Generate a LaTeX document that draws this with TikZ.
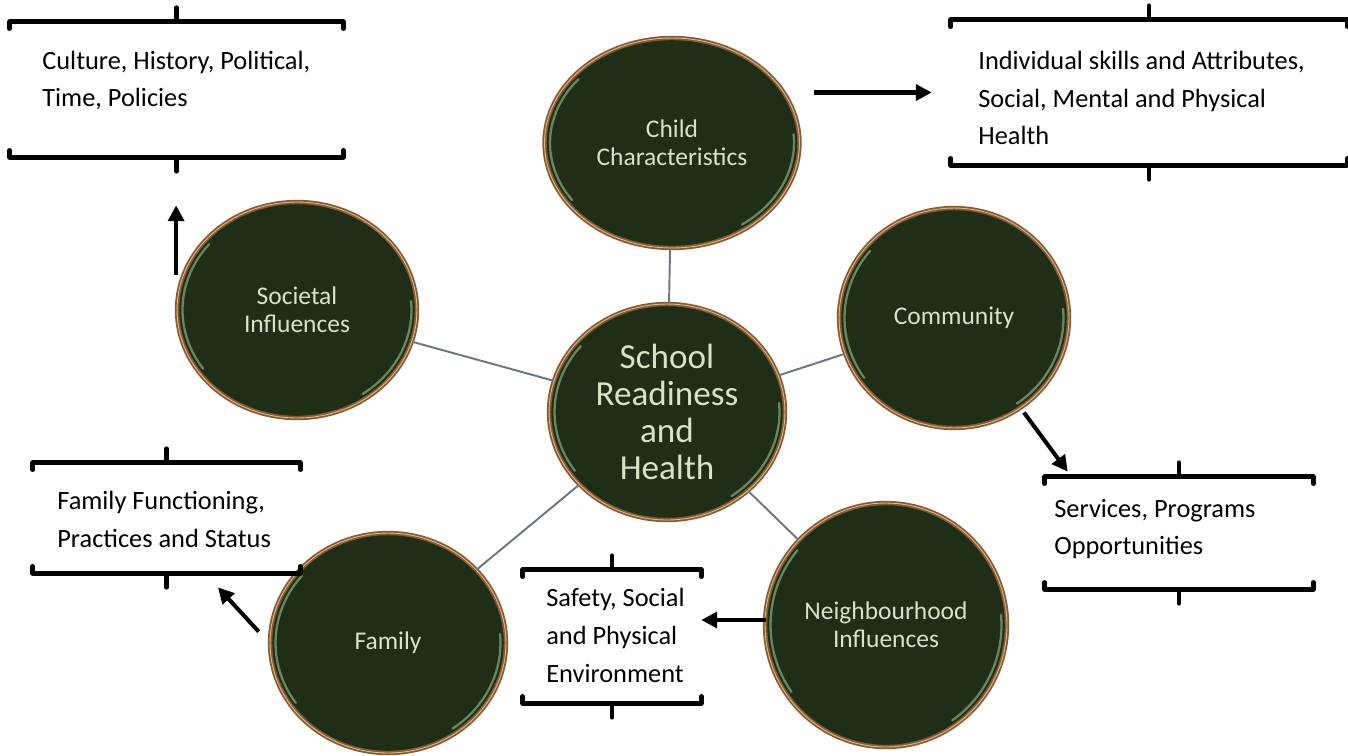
\documentclass[tikz,border=0pt]{standalone}
\usepackage{fontspec}
\setmainfont{Carlito}
\usetikzlibrary{arrows.meta,shapes.geometric}
\definecolor{ballfill}{HTML}{1F2E17}
\definecolor{ballrim}{HTML}{8A5A2E}
\definecolor{ballline}{HTML}{D9B98E}
\definecolor{balltext}{HTML}{D6E4C4}
\definecolor{spokegray}{HTML}{6B7682}
\definecolor{glossgreen}{HTML}{9CC38A}
\tikzset{
  ball/.style={ellipse, draw=ballrim, double=ballline, double distance=0.5pt, line width=1pt,
    fill=ballfill, text=balltext, align=center, inner sep=0pt,
    font=\fontsize{14.5}{16}\selectfont},
  gloss/.style={draw=glossgreen, line width=1.3pt, opacity=0.6, line cap=round},
  spoke/.style={draw=spokegray, line width=1.1pt},
  frame/.style={line width=2.6pt, line cap=round, line join=round},
  boxframe/.style={rectangle, inner sep=0pt},
  boxtext/.style={align=left, inner sep=0pt, anchor=west, font=\fontsize{15}{21.5}\selectfont},
  arr/.style={line width=2.3pt, -{Triangle[length=9pt,width=9pt]}}
}
% brackets above and below a box node
\newcommand{\brackets}[1]{%
  \draw[frame] ([yshift=-0.14cm]#1.north west) -- (#1.north west) -- (#1.north east) -- ([yshift=-0.14cm]#1.north east);
  \draw[frame] ([yshift=0.14cm]#1.south west) -- (#1.south west) -- (#1.south east) -- ([yshift=0.14cm]#1.south east);
  \draw[frame] (#1.north) -- ([yshift=0.28cm]#1.north);
  \draw[frame] (#1.south) -- ([yshift=-0.28cm]#1.south);
}

\begin{document}
\begin{tikzpicture}[x=0.02cm, y=-0.02cm]
  \useasboundingbox (0,0) rectangle (1348,755);

  % circles
  \node[ball, minimum width=4.72cm, minimum height=4.32cm, font=\fontsize{20}{21}\selectfont] (srh) at (667,412) {School\\Readiness\\and\\Health};
  \node[ball, minimum width=5.1cm, minimum height=4.2cm] (child) at (672,143) {Child\\Characteristics};
  \node[ball, minimum width=4.8cm, minimum height=4.32cm] (soc) at (297,310) {Societal\\Influences};
  \node[ball, minimum width=4.6cm, minimum height=4.4cm] (comm) at (954,318) {Community};
  \node[ball, minimum width=4.72cm, minimum height=4.4cm] (fam) at (388,643) {Family};
  \node[ball, minimum width=4.84cm, minimum height=4.88cm] (neigh) at (886,625) {Neighbourhood\\Influences};

  % sheen on the balls
  \foreach \n/\a/\b in {srh/2.25/2.05, child/2.44/1.99, soc/2.29/2.05, comm/2.19/2.09, fam/2.25/2.09, neigh/2.31/2.33}{
    \draw[gloss] ([shift={(140:\a cm and \b cm)}]\n.center) arc[start angle=140, end angle=215, x radius=\a cm, y radius=\b cm];
    \draw[gloss] ([shift={(-55:\a cm and \b cm)}]\n.center) arc[start angle=-55, end angle=5, x radius=\a cm, y radius=\b cm];
  }

  % spokes
  \draw[spoke] (srh) -- (child);
  \draw[spoke] (srh) -- (soc);
  \draw[spoke] (srh) -- (comm);
  \draw[spoke] (srh) -- (fam);
  \draw[spoke] (srh) -- (neigh);

  % boxes
  \node[boxframe, minimum width=6.66cm, minimum height=2.7cm] (box1) at (176.5,89.5) {};
  \node[boxframe, minimum width=7.92cm, minimum height=2.9cm] (box2) at (1149,92.5) {};
  \node[boxframe, minimum width=5.36cm, minimum height=2.24cm] (box3) at (1179,533) {};
  \node[boxframe, minimum width=3.56cm, minimum height=2.66cm] (box4) at (612,636.5) {};
  \node[boxframe, minimum width=5.34cm, minimum height=2.2cm] (box5) at (166.5,518) {};
  \brackets{box1}
  \brackets{box2}
  \brackets{box3}
  \brackets{box4}
  \brackets{box5}

  \node[boxtext] (txt1) at (42,80.5) {Culture, History, Political,\\Time, Policies};
  \node[boxtext] (txt2) at (978,98) {Individual skills and Attributes,\\Social, Mental and Physical\\Health};
  \node[boxtext] (txt3) at (1054,529) {Services, Programs\\Opportunities};
  \node[boxtext] (txt4) at (546,635.5) {Safety, Social\\and Physical\\Environment};
  \node[boxtext] (txt5) at (57,519.5) {Family Functioning,\\Practices and Status};

  % arrows
  \draw[arr, shorten <=0.27cm, shorten >=0.38cm] (child.east |- box2.west) -- (box2.west);
  \draw[arr, shorten <=0.7cm, shorten >=0.96cm] (soc.west) -- (soc.west |- box1.south);
  \draw[arr, shorten <=0.1cm] (comm) -- ([xshift=0.46cm, yshift=0.1cm]box3.north west);
  \draw[arr, shorten <=-0.04cm] ([yshift=0.33cm]box4.east -| neigh.west) -- ([yshift=0.33cm]box4.east);
  \draw[arr, shorten <=0.31cm] (fam.west) -- ([xshift=1.03cm, yshift=-0.28cm]box5.south);
\end{tikzpicture}
\end{document}
